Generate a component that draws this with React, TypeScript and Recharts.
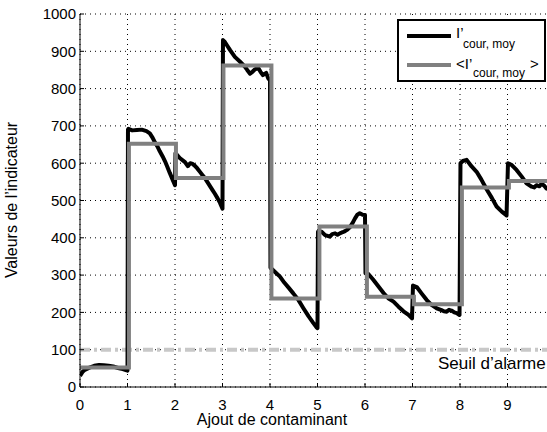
import React from "react";
import {
  LineChart,
  Line,
  XAxis,
  YAxis,
  CartesianGrid,
  ReferenceLine,
} from "recharts";

// signal brut (noir)
const signalX = [
  0, 0.05, 0.1, 0.2, 0.3, 0.4, 0.5, 0.6, 0.7, 0.8, 0.9, 0.98, 1.0,
  1.01, 1.02, 1.1, 1.2, 1.3, 1.4, 1.47, 1.53, 1.58, 1.63, 1.68, 1.74, 1.79, 1.84, 1.89, 1.95, 2.0,
  2.01, 2.1, 2.21, 2.27, 2.32, 2.37, 2.42, 2.47, 2.53, 2.58, 2.63, 2.68, 2.74, 2.79, 2.84, 2.9, 2.95, 3.0,
  3.01, 3.05, 3.1, 3.16, 3.26, 3.37, 3.47, 3.52, 3.58, 3.63, 3.68, 3.75, 3.8, 3.85, 3.92, 3.96, 4.0,
  4.01, 4.1, 4.21, 4.3, 4.4, 4.49, 4.6, 4.7, 4.81, 4.91, 4.98, 5.0,
  5.01, 5.09, 5.16, 5.26, 5.31, 5.37, 5.42, 5.47, 5.53, 5.58, 5.63, 5.68, 5.74, 5.79, 5.84, 5.89, 5.95, 6.0,
  6.01, 6.07, 6.17, 6.28, 6.39, 6.49, 6.6, 6.7, 6.81, 6.91, 6.99,
  7.01, 7.09, 7.19, 7.3, 7.4, 7.51, 7.61, 7.66, 7.72, 7.77, 7.82, 7.88, 7.93, 7.99,
  8.01, 8.06, 8.14, 8.24, 8.35, 8.45, 8.56, 8.67, 8.77, 8.88, 8.98,
  9.01, 9.09, 9.19, 9.3, 9.4, 9.51, 9.56, 9.61, 9.67, 9.72, 9.77, 9.82, 9.9,
];
const signalY = [
  30, 40, 46, 52, 57, 59, 58, 57, 55, 51, 48, 45, 44,
  690, 692, 688, 689, 690, 686, 680, 668, 655, 645, 632, 618, 605, 590, 574, 556, 541,
  627, 614, 603, 592, 600, 598, 593, 586, 576, 568, 560, 550, 538, 528, 518, 505, 493, 478,
  930, 925, 915, 903, 885, 872, 859, 850, 840, 845, 851, 856, 845, 836, 842, 828, 822,
  320, 309, 296, 280, 265, 251, 233, 212, 190, 172, 160, 158,
  416, 416, 407, 403, 410, 412, 408, 412, 415, 418, 422, 428, 440, 452, 462, 466, 462, 461,
  305, 303, 288, 270, 252, 238, 229, 216, 203, 194, 184,
  272, 268, 251, 233, 220, 211, 206, 203, 202, 207, 205, 200, 198, 193,
  600, 606, 609, 592, 577, 556, 530, 507, 484, 470, 460,
  600, 595, 582, 564, 546, 537, 535, 541, 538, 545, 540, 532, 530,
];

// moyenne par palier (gris)
const stepEdges = [0, 1.03, 2.02, 3.02, 4.03, 5.04, 6.04, 7.03, 8.04, 9.03, 10];
const stepMeans = [52, 652, 560, 862, 237, 430, 242, 222, 535, 552];

const xTicks = [0, 1, 2, 3, 4, 5, 6, 7, 8, 9];
const yTicks = [0, 100, 200, 300, 400, 500, 600, 700, 800, 900, 1000];
const seuil = 100;

const signalData = signalX.map((x, i) => ({ x, v: signalY[i] }));
const meanData = stepMeans.flatMap((m, i) => [
  { x: stepEdges[i], v: m },
  { x: stepEdges[i + 1], v: m },
]);

const FONT = '"Liberation Sans", Arial, Helvetica, sans-serif';
const tickStyle = { fill: "#000", fontSize: 15, fontFamily: FONT };

export default function App() {
  return (
    <div
      style={{
        position: "absolute",
        left: 0,
        top: 0,
        width: 547,
        height: 432,
        overflow: "hidden",
        background: "#fff",
        fontFamily: FONT,
        color: "#000",
      }}
    >
      <LineChart
        width={560}
        height={432}
        margin={{ top: 14, right: 5, bottom: 15, left: 0 }}
      >
        <CartesianGrid stroke="#000" strokeDasharray="1 4" strokeWidth={1} />
        <XAxis
          type="number"
          dataKey="x"
          domain={[0, 10]}
          ticks={xTicks}
          allowDataOverflow
          height={30}
          tick={tickStyle}
          tickSize={-4}
          tickMargin={16}
          tickLine={{ stroke: "#000" }}
          axisLine={{ stroke: "#000" }}
        />
        <XAxis
          xAxisId="top"
          orientation="top"
          type="number"
          domain={[0, 10]}
          ticks={xTicks}
          height={0}
          tickFormatter={() => ""}
          tickSize={-4}
          tickLine={{ stroke: "#000" }}
          axisLine={{ stroke: "#000" }}
        />
        <YAxis
          type="number"
          domain={[0, 1000]}
          ticks={yTicks}
          width={80}
          tick={tickStyle}
          tickSize={-4}
          tickMargin={8}
          tickLine={{ stroke: "#000" }}
          axisLine={{ stroke: "#000" }}
        />
        <ReferenceLine
          y={seuil}
          stroke="#c8c8c8"
          strokeWidth={4}
          strokeDasharray="10 4 3 4"
        />
        <Line
          data={signalData}
          dataKey="v"
          stroke="#000"
          strokeWidth={4}
          dot={false}
          activeDot={false}
          strokeLinejoin="round"
          isAnimationActive={false}
        />
        <Line
          data={meanData}
          dataKey="v"
          stroke="#808080"
          strokeWidth={4}
          dot={false}
          activeDot={false}
          isAnimationActive={false}
        />
      </LineChart>

      {/* titres d'axes */}
      <div
        style={{
          position: "absolute",
          left: 272,
          top: 412,
          transform: "translateX(-50%)",
          fontSize: 16,
          lineHeight: 1,
          whiteSpace: "nowrap",
        }}
      >
        Ajout de contaminant
      </div>
      <div
        style={{
          position: "absolute",
          left: 12,
          top: 200,
          transform: "translate(-50%, -50%) rotate(-90deg)",
          fontSize: 16,
          lineHeight: 1,
          whiteSpace: "nowrap",
        }}
      >
        Valeurs de l’indicateur
      </div>

      {/* seuil */}
      <div
        style={{
          position: "absolute",
          left: 438,
          top: 355,
          fontSize: 17,
          lineHeight: 1,
          whiteSpace: "nowrap",
        }}
      >
        Seuil d’alarme
      </div>

      {/* légende */}
      <div
        style={{
          position: "absolute",
          left: 397,
          top: 19,
          width: 149,
          height: 63,
          boxSizing: "border-box",
          border: "2px solid #000",
          background: "#fff",
        }}
      />
      <div style={{ position: "absolute", left: 407, top: 34, width: 44, height: 4, background: "#000" }} />
      <div style={{ position: "absolute", left: 407, top: 63, width: 44, height: 4, background: "#808080" }} />
      <div style={{ position: "absolute", left: 456, top: 25, fontSize: 15, lineHeight: 1, whiteSpace: "nowrap" }}>
        I’
      </div>
      <div style={{ position: "absolute", left: 463, top: 38, fontSize: 12, lineHeight: 1, whiteSpace: "nowrap" }}>
        cour, moy
      </div>
      <div style={{ position: "absolute", left: 456, top: 56, fontSize: 15, lineHeight: 1, whiteSpace: "nowrap" }}>
        &lt;I’
      </div>
      <div style={{ position: "absolute", left: 473, top: 67, fontSize: 12, lineHeight: 1, whiteSpace: "nowrap" }}>
        cour, moy
      </div>
      <div style={{ position: "absolute", left: 530, top: 56, fontSize: 15, lineHeight: 1, whiteSpace: "nowrap" }}>
        &gt;
      </div>
    </div>
  );
}
